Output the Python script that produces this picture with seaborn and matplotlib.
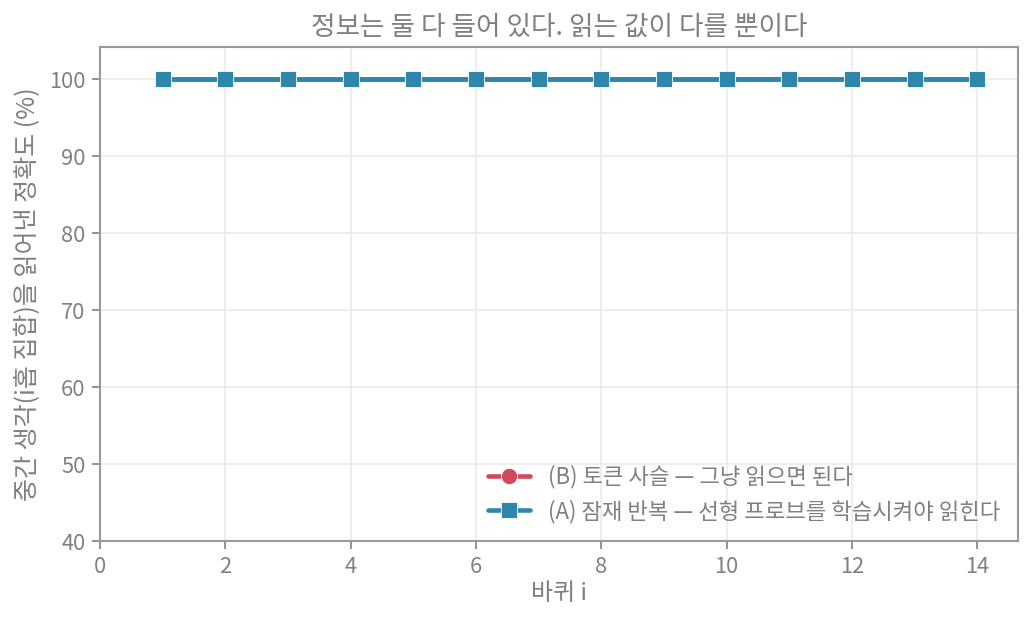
import matplotlib
matplotlib.use("Agg")
import matplotlib.pyplot as plt
import seaborn as sns
import pandas as pd

rounds = list(range(1, 15))
token_chain = [100]*14      # (B)
latent_loop = [100]*14      # (A)
label_b = "(B) 토큰 사슬 — 그냥 읽으면 된다"
label_a = "(A) 잠재 반복 — 선형 프로브를 학습시켜야 읽힌다"
title = "정보는 둘 다 들어 있다. 읽는 값이 다를 뿐이다"
xlabel = "바퀴 i"
ylabel = "중간 생각(i홉 집합)을 읽어낸 정확도 (%)"

sns.set_theme(style="whitegrid")
plt.rcParams['font.family'] = ['Noto Sans CJK KR', 'DejaVu Sans']
gray_txt = "#808080"
gray_sp = "#999999"

fig = plt.figure(figsize=(1034/150, 625/150), dpi=150)
ax = fig.add_axes([100/1034, 1-541/625, 918/1034, 494/625])

df_b = pd.DataFrame({"x": rounds, "y": token_chain})
df_a = pd.DataFrame({"x": rounds, "y": latent_loop})
sns.lineplot(data=df_b, x="x", y="y", ax=ax, color="#d1495b", marker="o",
             markersize=7.8, linewidth=2.2, label=label_b, markeredgecolor="white", markeredgewidth=0.4)
sns.lineplot(data=df_a, x="x", y="y", ax=ax, color="#2e86ab", marker="s",
             markersize=7.8, linewidth=2.2, label=label_a, markeredgecolor="white", markeredgewidth=0.4)

ax.set_xlim(0, 14.65)
ax.set_ylim(40, 104.2)
ax.set_xticks(range(0, 15, 2))
ax.set_yticks(range(40, 101, 10))
ax.grid(True, color="#ebebeb", linewidth=0.8)
ax.set_facecolor("white")
for s in ax.spines.values():
    s.set_visible(True)
    s.set_color(gray_sp)
    s.set_linewidth(1.0)
ax.tick_params(axis="both", colors=gray_txt, labelsize=10.5, length=4, width=0.8, direction="out",
               bottom=True, left=True, pad=3)
for t in ax.get_xticklabels() + ax.get_yticklabels():
    t.set_color(gray_txt)
ax.set_xlabel(xlabel, color=gray_txt, fontsize=11.5, labelpad=2)
ax.set_ylabel(ylabel, color=gray_txt, fontsize=12, labelpad=4)
ax.set_title(title, color=gray_txt, fontsize=12.8, pad=6)

leg = ax.legend(loc="lower right", frameon=False, fontsize=10.7, handlelength=1.9,
                borderaxespad=0.4)
for t in leg.get_texts():
    t.set_color(gray_txt)

fig.savefig("out.png", dpi=150, facecolor="white")
